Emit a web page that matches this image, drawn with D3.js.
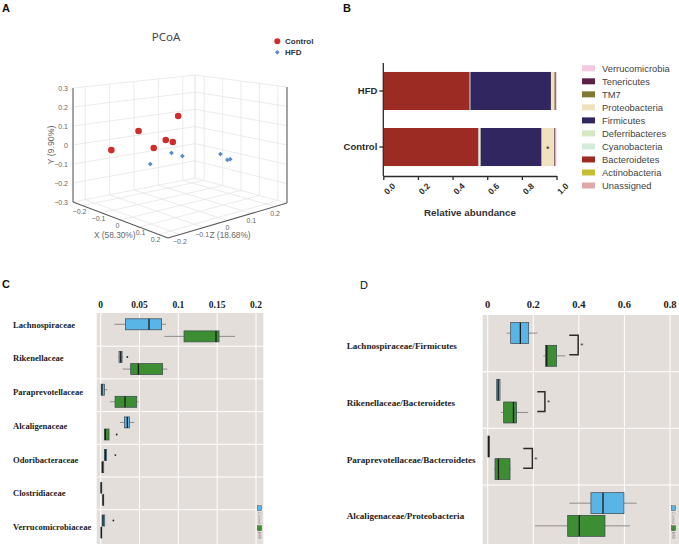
<!DOCTYPE html>
<html><head><meta charset="utf-8">
<script src="https://cdn.jsdelivr.net/npm/d3@7"></script>
<style>body{margin:0;background:#fff;} svg{display:block;}</style>
</head><body>
<svg id="chart" width="679" height="544"></svg>
<script>
// ---------------- DATA ----------------
// Panel A: PCoA coordinates
const pcoaGroups = ["Control", "HFD"];
const controlX = [-0.153, -0.091, -0.072, -0.048, -0.031, -0.059];
const controlY = [-0.014, 0.089, -0.006, 0.035, 0.025, 0.146];
const controlZ = [-0.168, -0.104, -0.056, -0.025, -0.009, 0.035];
const hfdX = [0.076, 0.038, 0.087, 0.129, 0.162, 0.161];
const hfdY = [-0.014, 0.001, -0.004, -0.018, -0.041, -0.041];
const hfdZ = [-0.186, -0.068, -0.061, 0.065, 0.068, 0.081];
const pcoaXZTicks = [-0.2, -0.1, 0, 0.1, 0.2];
const pcoaYTicks = [-0.3, -0.2, -0.1, 0, 0.1, 0.2, 0.3];

// Panel B: phylum relative abundance
const phyla = ["Unassigned", "Actinobacteria", "Bacteroidetes", "Cyanobacteria", "Deferribacteres",
  "Firmicutes", "Proteobacteria", "TM7", "Tenericutes", "Verrucomicrobia"];
const phylaColors = ["#dfa9aa", "#c6bd33", "#9c2b24", "#d5ecdd", "#d5e8c2",
  "#31265f", "#eee2bf", "#7e7833", "#5d2048", "#f2c9df"];
const groupsB = ["HFD", "Control"];
const hfdAbund = [0.001, 0.001, 0.497, 0.002, 0.002, 0.465, 0.020, 0.007, 0.003, 0.002];
const controlAbund = [0.001, 0.001, 0.548, 0.006, 0.006, 0.352, 0.072, 0.002, 0.006, 0.006];
const bTicks = [0, 0.2, 0.4, 0.6, 0.8, 1.0];

// Panel C: family abundance box stats [min, q1, median, q3, max]
const familiesC = ["Lachnospiraceae", "Rikenellaceae", "Paraprevotellaceae", "Alcaligenaceae",
  "Odoribacteraceae", "Clostridiaceae", "Verrucomicrobiaceae"];
const cControlStats = [
  [0.0176, 0.0318, 0.0622, 0.0785, 0.0841],
  [0.0227, 0.0236, 0.0258, 0.0275, 0.0283],
  [0.0004, 0.0006, 0.0017, 0.0047, 0.0086],
  [0.0249, 0.0305, 0.0343, 0.0369, 0.0433],
  [0.0047, 0.0049, 0.0060, 0.0077, 0.0079],
  [0.0003, 0.0004, 0.0005, 0.0006, 0.0007],
  [0.0017, 0.0018, 0.0030, 0.0052, 0.0054]];
const cHfdStats = [
  [0.0820, 0.1073, 0.1485, 0.1524, 0.1730],
  [0.0283, 0.0386, 0.0485, 0.0798, 0.0858],
  [0.0120, 0.0185, 0.0313, 0.0464, 0.0485],
  [0.0043, 0.0047, 0.0060, 0.0107, 0.0110],
  [0.0017, 0.0018, 0.0021, 0.0039, 0.0040],
  [0.0028, 0.0029, 0.0030, 0.0032, 0.0033],
  [0.0002, 0.0004, 0.0008, 0.0012, 0.0017]];
const cControlOutliers = [[], [0.0343], [], [], [0.0189], [], [0.0163]];
const cHfdOutliers = [[], [], [], [0.0206], [], [], []];
const cTicks = [0, 0.05, 0.1, 0.15, 0.2];
const cTickLabels = ["0", "0.05", "0.1", "0.15", "0.2"];

// Panel D: ratios box stats
const ratiosD = ["Lachnospiraceae/Firmicutes", "Rikenellaceae/Bacteroidetes",
  "Paraprevotellaceae/Bacteroidetes", "Alcaligenaceae/Proteobacteria"];
const dControlStats = [
  [0.0833, 0.1009, 0.1433, 0.1798, 0.2178],
  [0.0370, 0.0395, 0.0460, 0.0540, 0.0545],
  [0.0000, 0.0010, 0.0040, 0.0080, 0.0090],
  [0.3580, 0.4530, 0.5060, 0.5980, 0.6535]];
const dHfdStats = [
  [0.2440, 0.2540, 0.2590, 0.3026, 0.3406],
  [0.0580, 0.0700, 0.1130, 0.1270, 0.1780],
  [0.0280, 0.0320, 0.0470, 0.0980, 0.1010],
  [0.2076, 0.3510, 0.4020, 0.5146, 0.6240]];
const dSigX = [0.397, 0.251, 0.196, null];
const dSigArm = [0.358, 0.2175, 0.156, null];
const dTicks = [0, 0.2, 0.4, 0.6, 0.8];
const dTickLabels = ["0", "0.2", "0.4", "0.6", "0.8"];

// ---------------- DRAW ----------------
const svg = d3.select("#chart");
const sans = "'Liberation Sans', Arial, sans-serif";
const serif = "'Liberation Serif', 'Times New Roman', serif";
const blueFill = "#5ab5e7", greenFill = "#3d8d33";

// panel letters
[["A", 2, 12, "bold"], ["B", 343, 12, "bold"], ["C", 2, 288, "bold"], ["D", 360, 289, "normal"]]
  .forEach(([t, x, y, w]) => svg.append("text").attr("x", x).attr("y", y).text(t)
    .attr("font-family", sans).attr("font-size", 11).attr("font-weight", w).attr("fill", "#111"));

// ===== Panel A =====
const gA = svg.append("g");
const xs3 = d3.scaleLinear().domain([-0.25, 0.25]).range([0, 1]);
const zs3 = d3.scaleLinear().domain([-0.25, 0.25]).range([0, 1]);
const ys3 = d3.scaleLinear().domain([-0.3, 0.3]).range([0, 1]);
const cL = [73, 202], cF = [168, 238], cR = [287, 203], cB = [195, 178];
const hL = 114, hF = 126, hR = 116, hB = 103;
function proj(x, y, z) {
  const u = xs3(x), w = zs3(z), t = ys3(y);
  const a = (1 - u) * (1 - w), b = u * (1 - w), c = u * w, d = (1 - u) * w;
  const fx = a * cL[0] + b * cF[0] + c * cR[0] + d * cB[0];
  const fy = a * cL[1] + b * cF[1] + c * cR[1] + d * cB[1];
  const h = a * hL + b * hF + c * hR + d * hB;
  return [fx, fy - t * h];
}
function line3(p1, p2, color, width) {
  const a = proj(...p1), b = proj(...p2);
  gA.append("line").attr("x1", a[0]).attr("y1", a[1]).attr("x2", b[0]).attr("y2", b[1])
    .attr("stroke", color).attr("stroke-width", width);
}
const gc = "#e6e6e6";
pcoaXZTicks.forEach(z => line3([-0.25, -0.3, z], [-0.25, 0.3, z], gc, 0.8));
pcoaYTicks.forEach(y => line3([-0.25, y, -0.25], [-0.25, y, 0.25], gc, 0.8));
pcoaXZTicks.forEach(x => line3([x, -0.3, 0.25], [x, 0.3, 0.25], gc, 0.8));
pcoaYTicks.forEach(y => line3([-0.25, y, 0.25], [0.25, y, 0.25], gc, 0.8));
pcoaXZTicks.forEach(x => line3([x, -0.3, -0.25], [x, -0.3, 0.25], gc, 0.8));
pcoaXZTicks.forEach(z => line3([-0.25, -0.3, z], [0.25, -0.3, z], gc, 0.8));
line3([-0.25, -0.3, 0.25], [-0.25, 0.3, 0.25], "#dcdcdc", 0.9);
const ec = "#5a5a5a";
line3([-0.25, -0.3, -0.25], [-0.25, 0.3, -0.25], ec, 1.1);
line3([0.25, -0.3, 0.25], [0.25, 0.3, 0.25], ec, 1.1);
line3([-0.25, -0.3, -0.25], [0.25, -0.3, -0.25], ec, 1.1);
line3([0.25, -0.3, -0.25], [0.25, -0.3, 0.25], ec, 1.1);

const tickStyle = s => s.attr("font-family", sans).attr("font-size", 7).attr("fill", "#666");
const fmt3 = v => v === 0 ? "0" : d3.format(".1f")(v).replace("-", "\u2212");
pcoaYTicks.forEach(y => {
  const p = proj(-0.25, y, -0.25);
  gA.append("text").attr("x", p[0] - 5).attr("y", p[1] + 2.5).attr("text-anchor", "end")
    .text(fmt3(y)).call(tickStyle);
});
pcoaXZTicks.forEach(x => {
  const p = proj(x, -0.3, -0.25);
  gA.append("text").attr("x", p[0] - 3 + (x === 0.1 ? 4 : 0)).attr("y", p[1] + 8).attr("text-anchor", "middle")
    .text(fmt3(x)).call(tickStyle);
});
pcoaXZTicks.forEach(z => {
  const p = proj(0.25, -0.3, z);
  gA.append("text").attr("x", p[0] - (z === -0.1 ? 1.5 : 0)).attr("y", p[1] + 9.5).attr("text-anchor", "middle")
    .text(fmt3(z)).call(tickStyle);
});
const axTitle = s => s.attr("font-family", sans).attr("font-size", 8.3).attr("fill", "#666");
gA.append("text").attr("x", 94).attr("y", 237.5).text("X (58.30%)").call(axTitle);
gA.append("text").attr("x", 209.5).attr("y", 238).text("Z (18.68%)").call(axTitle);
gA.append("text").attr("transform", "translate(54,145) rotate(-90)").attr("text-anchor", "middle")
  .text("Y (9.90%)").call(axTitle).attr("font-size", 8.8);

// points
const ctrlPts = controlX.map((x, i) => proj(x, controlY[i], controlZ[i]));
const hfdPts = hfdX.map((x, i) => proj(x, hfdY[i], hfdZ[i]));
gA.selectAll(".cp").data(ctrlPts).join("circle").attr("cx", d => d[0]).attr("cy", d => d[1])
  .attr("r", 3.3).attr("fill", "#d12c2c");
const diamond = d3.symbol().type(d3.symbolSquare).size(11);
gA.selectAll(".hp").data(hfdPts).join("path").attr("d", diamond)
  .attr("transform", d => `translate(${d[0]},${d[1]}) rotate(45)`).attr("fill", "#5b8ccc");

gA.append("text").attr("x", 166).attr("y", 41).attr("text-anchor", "middle").text("PCoA")
  .attr("font-family", "'Noto Sans', sans-serif").attr("font-size", 11.5).attr("fill", "#444");
gA.append("circle").attr("cx", 277.3).attr("cy", 41.3).attr("r", 3).attr("fill", "#d12c2c");
gA.append("path").attr("d", diamond).attr("transform", "translate(277.3,52.3) rotate(45)").attr("fill", "#5b8ccc");
gA.append("text").attr("x", 285).attr("y", 44.3).text(pcoaGroups[0])
  .attr("font-family", sans).attr("font-size", 8).attr("font-weight", "bold").attr("fill", "#333");
gA.append("text").attr("x", 285).attr("y", 55.3).text(pcoaGroups[1])
  .attr("font-family", sans).attr("font-size", 8).attr("font-weight", "bold").attr("fill", "#333");

// ===== Panel B =====
const gB = svg.append("g");
const xB = d3.scaleLinear().domain([0, 1]).range([383.3, 556.5]);
const yB = d3.scaleBand().domain(groupsB).range([63, 175]).paddingInner(0.321).paddingOuter(0.16);
const abundByGroup = { HFD: hfdAbund, Control: controlAbund };
const rowsB = groupsB.map(g => { const o = { group: g }; phyla.forEach((p, i) => o[p] = abundByGroup[g][i]); return o; });
const stackB = d3.stack().keys(phyla)(rowsB);
const colorB = d3.scaleOrdinal().domain(phyla).range(phylaColors);
gB.selectAll(".layer").data(stackB).join("g").attr("fill", d => colorB(d.key))
  .selectAll("rect").data(d => d).join("rect")
  .attr("x", d => xB(d[0])).attr("width", d => Math.max(0, xB(d[1]) - xB(d[0])))
  .attr("y", d => yB(d.data.group)).attr("height", yB.bandwidth());
gB.append("text").attr("x", xB(0.95)).attr("y", yB("Control") + yB.bandwidth() / 2 + 4.5)
  .attr("text-anchor", "middle").text("*").attr("font-family", sans).attr("font-size", 9).attr("fill", "#222");

const axB = gB.append("g").attr("transform", "translate(0,176)")
  .call(d3.axisBottom(xB).tickValues(bTicks).tickFormat(d3.format(".1f")).tickSize(4).tickSizeOuter(0));
axB.selectAll("text").attr("transform", "translate(3,-1) rotate(-45)").attr("text-anchor", "end")
  .attr("dy", "0.9em").attr("dx", "-0.2em");
const ayB = gB.append("g").attr("transform", "translate(383.3,0)")
  .call(d3.axisLeft(yB).tickSize(4).tickSizeOuter(0));
[axB, ayB].forEach(a => {
  a.selectAll("path,line").attr("stroke", "#2a2a2a").attr("stroke-width", 1.3);
  a.selectAll("text").attr("font-family", sans).attr("font-weight", "bold").attr("fill", "#2a2a2a");
});
axB.selectAll("text").attr("font-size", 8.5);
ayB.selectAll("text").attr("font-size", 9.5).attr("x", -6);
ayB.select(".domain").attr("d", "M0,63V176");
gB.append("text").attr("x", 470).attr("y", 216).attr("text-anchor", "middle").text("Relative abundance")
  .attr("font-family", sans).attr("font-size", 9.8).attr("font-weight", "bold").attr("fill", "#333");
const legPhyla = phyla.slice().reverse();
const legY = d3.scalePoint().domain(legPhyla).range([68.3, 185.5]);
legPhyla.forEach(p => {
  gB.append("rect").attr("x", 582).attr("y", legY(p) - 3).attr("width", 13).attr("height", 6).attr("fill", colorB(p));
  gB.append("text").attr("x", 602).attr("y", legY(p) + 3.4).text(p)
    .attr("font-family", sans).attr("font-size", 9.4).attr("fill", "#444");
});

// ===== Box plot helper =====
function drawBox(g, xs, cy, st, fill, hh) {
  g.append("line").attr("x1", xs(st[0])).attr("x2", xs(st[1])).attr("y1", cy).attr("y2", cy)
    .attr("stroke", "#777").attr("stroke-width", 0.8);
  g.append("line").attr("x1", xs(st[3])).attr("x2", xs(st[4])).attr("y1", cy).attr("y2", cy)
    .attr("stroke", "#777").attr("stroke-width", 0.8);
  g.append("rect").attr("x", xs(st[1])).attr("y", cy - hh).attr("width", Math.max(0.8, xs(st[3]) - xs(st[1])))
    .attr("height", hh * 2).attr("fill", fill).attr("stroke", "#3a4750").attr("stroke-width", 0.7);
  g.append("line").attr("x1", xs(st[2])).attr("x2", xs(st[2])).attr("y1", cy - hh).attr("y2", cy + hh)
    .attr("stroke", "#1b1b1b").attr("stroke-width", 1.3);
}
function tinyLegend(g, x, y1, y2) {
  [[y1, blueFill], [y2, greenFill]].forEach(([y, f]) => {
    g.append("line").attr("x1", x - 2.5).attr("x2", x + 2.5).attr("y1", y).attr("y2", y).attr("stroke", "#777").attr("stroke-width", 0.6);
    g.append("rect").attr("x", x - 2).attr("y", y - 2.5).attr("width", 4).attr("height", 5).attr("fill", f).attr("stroke", "#444").attr("stroke-width", 0.4);
  });
  g.append("text").attr("transform", `translate(${x - 1.3},${y1 + 4}) rotate(90)`).text("Control")
    .attr("font-family", sans).attr("font-size", 3.6).attr("fill", "#777");
  g.append("text").attr("transform", `translate(${x - 1.3},${y2 + 3.5}) rotate(90)`).text("HFD")
    .attr("font-family", sans).attr("font-size", 3.6).attr("fill", "#777");
}
const bgCD = "#e4dedb";

// ===== Panel C =====
const gC = svg.append("g");
const xC = d3.scaleLinear().domain([0, 0.2]).range([100.7, 256]);
const yC = d3.scaleBand().domain(familiesC).range([313.5, 542.4]);
const labC = d3.scalePoint().domain(familiesC).range([324.3, 526.5]);
gC.append("rect").attr("x", 96.7).attr("y", 313).attr("width", 166.6).attr("height", 232).attr("fill", bgCD);
cTicks.forEach(t => gC.append("line").attr("x1", xC(t)).attr("x2", xC(t)).attr("y1", 313).attr("y2", 544)
  .attr("stroke", "#fff").attr("stroke-width", 1));
familiesC.slice(1).forEach(f => gC.append("line").attr("x1", 96.7).attr("x2", 263.3)
  .attr("y1", yC(f)).attr("y2", yC(f)).attr("stroke", "#fff").attr("stroke-width", 1));
cTicks.forEach((t, i) => gC.append("text").attr("x", xC(t)).attr("y", 307.5).attr("text-anchor", "middle")
  .text(cTickLabels[i]).attr("font-family", serif).attr("font-weight", "bold").attr("font-size", 9.5).attr("fill", "#222"));
familiesC.forEach((f, i) => {
  gC.append("text").attr("x", 13).attr("y", labC(f) + 3.4).text(f)
    .attr("font-family", serif).attr("font-weight", "bold").attr("font-size", 8.6).attr("fill", "#222");
  const cb = yC(f) + 0.33 * yC.bandwidth(), cg = yC(f) + 0.70 * yC.bandwidth();
  drawBox(gC, xC, cb, cControlStats[i], blueFill, 5.5);
  drawBox(gC, xC, cg, cHfdStats[i], greenFill, 5.5);
  cControlOutliers[i].forEach(v => gC.append("circle").attr("cx", xC(v)).attr("cy", cb).attr("r", 0.9).attr("fill", "#222"));
  cHfdOutliers[i].forEach(v => gC.append("circle").attr("cx", xC(v)).attr("cy", cg).attr("r", 0.9).attr("fill", "#222"));
});
tinyLegend(gC, 259.5, 508.3, 528.3);

// ===== Panel D =====
const gD = svg.append("g");
const xD = d3.scaleLinear().domain([0, 0.8]).range([487.7, 670]);
const yD = d3.scaleBand().domain(ratiosD).range([315, 541.7]);
gD.append("rect").attr("x", 482.7).attr("y", 315).attr("width", 197).attr("height", 230).attr("fill", bgCD);
dTicks.forEach(t => gD.append("line").attr("x1", xD(t)).attr("x2", xD(t)).attr("y1", 315).attr("y2", 544)
  .attr("stroke", "#fff").attr("stroke-width", 1));
ratiosD.slice(1).forEach(f => gD.append("line").attr("x1", 482.7).attr("x2", 679)
  .attr("y1", yD(f)).attr("y2", yD(f)).attr("stroke", "#fff").attr("stroke-width", 1));
dTicks.forEach((t, i) => gD.append("text").attr("x", xD(t)).attr("y", 308).attr("text-anchor", "middle")
  .text(dTickLabels[i]).attr("font-family", serif).attr("font-weight", "bold").attr("font-size", 10.5).attr("fill", "#222"));
ratiosD.forEach((f, i) => {
  const top = yD(f), bw = yD.bandwidth();
  gD.append("text").attr("x", 346.7).attr("y", top + bw / 2 + 6).text(f)
    .attr("font-family", serif).attr("font-weight", "bold").attr("font-size", 9.1).attr("fill", "#222");
  const cb = top + 0.32 * bw, cg = top + 0.72 * bw;
  drawBox(gD, xD, cb, dControlStats[i], blueFill, 10.5);
  drawBox(gD, xD, cg, dHfdStats[i], greenFill, 10.5);
  if (dSigX[i] !== null) {
    const y1 = cb + 2, y2 = cg - 1, xb = xD(dSigX[i]), xa = xD(dSigArm[i]);
    gD.append("path").attr("d", `M${xa},${y1}H${xb}V${y2}H${xa}`).attr("fill", "none")
      .attr("stroke", "#2a2a2a").attr("stroke-width", 1.5);
    gD.append("text").attr("x", xb + 2).attr("y", (y1 + y2) / 2 + 3.5).text("*")
      .attr("font-family", sans).attr("font-size", 8).attr("fill", "#333");
  }
});
tinyLegend(gD, 673.5, 508.3, 528.3);
</script>
</body></html>
